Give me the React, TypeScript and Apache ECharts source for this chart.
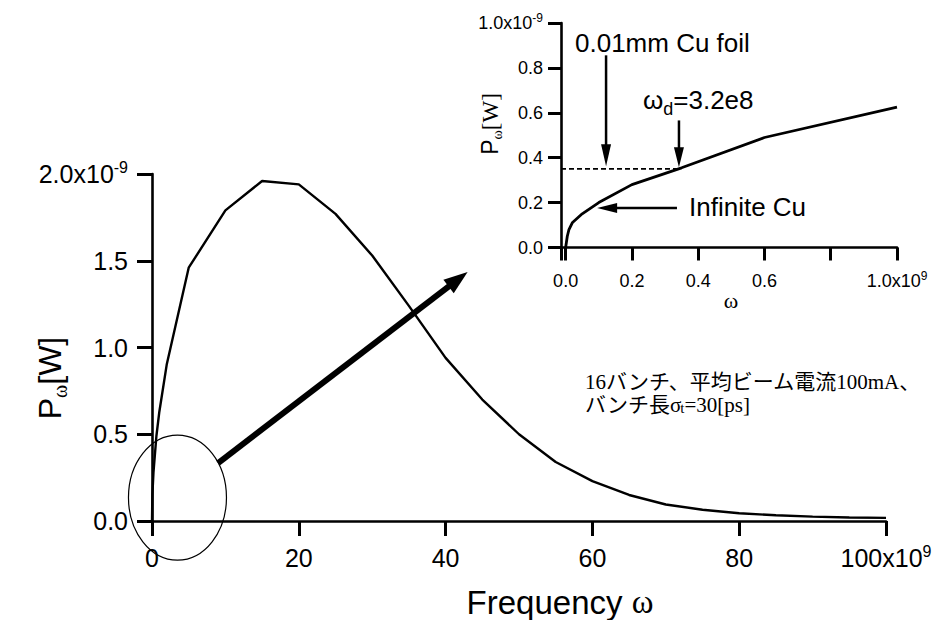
import React, { useEffect, useRef } from "react";
import * as echarts from "echarts";

// ---- data (main plot: x in 1e9, y in 1e-9 W) ----
const mainFreq = [0, 0.05, 0.2, 0.6, 1, 2, 5, 10, 15, 20, 25, 30, 35, 40, 45, 50, 55, 60, 65, 70, 75, 80, 85, 90, 95, 100];
const mainPower = [0, 0.15, 0.28, 0.49, 0.63, 0.9, 1.46, 1.79, 1.96, 1.94, 1.77, 1.53, 1.24, 0.94, 0.7, 0.5, 0.34, 0.23, 0.15, 0.095, 0.065, 0.045, 0.033, 0.025, 0.02, 0.018];

// ---- data (inset: x in 1e9, y in 1e-9 W) ----
const insetFreq = [0, 0.005, 0.01, 0.02, 0.05, 0.1, 0.2, 0.35, 0.6, 1.0];
const insetPower = [0, 0.05, 0.08, 0.11, 0.15, 0.2, 0.28, 0.355, 0.49, 0.625];
const insetXLabels = [0, 0.2, 0.4, 0.6, 1.0];
const foilLevel = 0.35;
const omegaD = 0.345;

const SANS = "Liberation Sans";
const SERIF = "Liberation Serif";
const JP = `${SERIF}, "Noto Sans CJK JP"`;

export default function App() {
  const ref = useRef<HTMLDivElement>(null);
  useEffect(() => {
    if (!ref.current) return;
    const chart = echarts.init(ref.current, undefined, { renderer: "svg" });

    const mainRich = {
      n: { fontSize: 25, fontFamily: SANS, color: "#000", lineHeight: 30 },
      s: { fontSize: 16, fontFamily: SANS, color: "#000", verticalAlign: "top", lineHeight: 16 },
    };
    const insetRich = {
      n: { fontSize: 18, fontFamily: SANS, color: "#000", lineHeight: 22 },
      s: { fontSize: 12, fontFamily: SANS, color: "#000", verticalAlign: "top", lineHeight: 12 },
    };
    const axisBase = (len: number) => ({
      splitLine: { show: false },
      axisTick: { show: true, inside: false, length: len, lineStyle: { color: "#000", width: 3 } },
      axisLine: { show: true, onZero: false, lineStyle: { color: "#000", width: 2.6 } },
    });

    const XMIN_INSET = -0.014;

    const option: any = {
      animation: false,
      backgroundColor: "#fff",
      grid: [
        { left: 152, top: 174, width: 734, height: 347 },
        { left: 561, top: 23, width: 336, height: 224.5 },
      ],
      xAxis: [
        {
          ...axisBase(15),
          type: "value",
          gridIndex: 0,
          min: 0,
          max: 100,
          interval: 20,
          axisLabel: {
            show: true,
            margin: 22,
            formatter: (v: number) => (v === 100 ? "{n|100x10}{s|9}" : "{n|" + v + "}"),
            rich: mainRich,
          },
        },
        {
          ...axisBase(13),
          type: "value",
          gridIndex: 1,
          min: XMIN_INSET,
          max: 1.0,
          axisLabel: {
            show: true,
            customValues: insetXLabels,
            margin: 22,
            formatter: (v: number) => (v === 1 ? "{n|1.0x10}{s|9}" : "{n|" + v.toFixed(1) + "}"),
            rich: insetRich,
          },
        },
      ],
      yAxis: [
        {
          ...axisBase(15),
          type: "value",
          gridIndex: 0,
          min: 0,
          max: 2.0,
          interval: 0.5,
          axisLabel: {
            show: true,
            margin: 24,
            formatter: (v: number) => (v === 2 ? "{n|2.0x10}{s|-9}" : "{n|" + v.toFixed(1) + "}"),
            rich: mainRich,
          },
        },
        {
          ...axisBase(13),
          type: "value",
          gridIndex: 1,
          min: 0,
          max: 1.0,
          interval: 0.2,
          axisLabel: {
            show: true,
            margin: 18,
            formatter: (v: number) => (v === 1 ? "{n|1.0x10}{s|-9}" : "{n|" + v.toFixed(1) + "}"),
            rich: insetRich,
          },
        },
      ],
      series: [
        {
          type: "line",
          xAxisIndex: 0,
          yAxisIndex: 0,
          data: mainFreq.map((x, i) => [x, mainPower[i]]),
          showSymbol: false,
          symbol: "none",
          lineStyle: { color: "#000", width: 2.4 },
        },
        {
          type: "line",
          xAxisIndex: 1,
          yAxisIndex: 1,
          data: insetFreq.map((x, i) => [x, insetPower[i]]),
          symbol: "none",
          lineStyle: { color: "#000", width: 2.8 },
        },
        {
          type: "line",
          xAxisIndex: 1,
          yAxisIndex: 1,
          data: [
            [XMIN_INSET, foilLevel],
            [omegaD, foilLevel],
          ],
          symbol: "none",
          lineStyle: { color: "#000", width: 1.8, type: [5, 3] },
        },
      ],
    };
    chart.setOption(option);

    const px = (g: number, x: number, y: number) => chart.convertToPixel({ gridIndex: g } as any, [x, y]) as number[];

    const arrow = (a: number[], b: number[], w: number, hl: number, hw: number) => {
      const dx = b[0] - a[0];
      const dy = b[1] - a[1];
      const L = Math.hypot(dx, dy);
      const ux = dx / L;
      const uy = dy / L;
      const bx = b[0] - ux * hl;
      const by = b[1] - uy * hl;
      const nx = -uy;
      const ny = ux;
      return [
        { type: "line", shape: { x1: a[0], y1: a[1], x2: bx + ux * 2, y2: by + uy * 2 }, style: { stroke: "#000", lineWidth: w } },
        {
          type: "polygon",
          shape: {
            points: [
              [b[0], b[1]],
              [bx + nx * hw / 2, by + ny * hw / 2],
              [bx - nx * hw / 2, by - ny * hw / 2],
            ],
          },
          style: { fill: "#000" },
        },
      ];
    };

    const ellC = px(0, 3.47, 0.135);
    const graphic: any[] = [
      { type: "ellipse", shape: { cx: ellC[0], cy: ellC[1], rx: 49, ry: 62.5 }, style: { fill: "none", stroke: "#000", lineWidth: 1.2 } },
      ...arrow(px(0, 9.0, 0.334), px(0, 43.0, 1.435), 6, 24, 17),
      ...arrow(px(1, 0.122, 0.856), px(1, 0.122, 0.362), 2.5, 22, 10),
      ...arrow(px(1, 0.342, 0.566), px(1, 0.342, 0.358), 2.5, 20, 10),
      ...arrow(px(1, 0.336, 0.176), px(1, 0.095, 0.176), 2.5, 20, 10),
      {
        type: "text",
        x: 575,
        y: 43,
        style: { text: "0.01mm Cu foil", font: `26px ${SANS}`, fill: "#000", verticalAlign: "middle" },
      },
      {
        type: "text",
        x: 643,
        y: 100,
        style: {
          text: "{a|ω}{d|d}{a|=3.2e8}",
          fill: "#000",
          verticalAlign: "middle",
          rich: {
            a: { fontSize: 26, fontFamily: SANS, lineHeight: 36, fill: "#000" },
            d: { fontSize: 18, fontFamily: SANS, verticalAlign: "bottom", lineHeight: 18, fill: "#000" },
          },
        },
      },
      {
        type: "text",
        x: 689,
        y: 207,
        style: { text: "Infinite Cu", font: `26px ${SANS}`, fill: "#000", verticalAlign: "middle" },
      },
      {
        type: "text",
        x: 731,
        y: 300,
        style: { text: "ω", font: `22px ${SERIF}`, fill: "#000", align: "center", verticalAlign: "middle" },
      },
      {
        type: "text",
        x: 490,
        y: 124,
        rotation: Math.PI / 2,
        style: {
          text: "{p|P}{w|ω}{b|[W]}",
          align: "center",
          verticalAlign: "middle",
          rich: {
            p: { fontSize: 23, fontFamily: SANS, lineHeight: 28, fill: "#000" },
            w: { fontSize: 14, fontFamily: SERIF, verticalAlign: "bottom", lineHeight: 14, fill: "#000" },
            b: { fontSize: 23, fontFamily: SERIF, lineHeight: 28, fill: "#000" },
          },
        },
      },
      {
        type: "text",
        x: 560,
        y: 602,
        style: {
          text: "{f|Frequency }{w|ω}",
          align: "center",
          verticalAlign: "middle",
          rich: {
            f: { fontSize: 33, fontFamily: SANS, fill: "#000" },
            w: { fontSize: 33, fontFamily: SERIF, fill: "#000" },
          },
        },
      },
      {
        type: "text",
        x: 50,
        y: 378,
        rotation: Math.PI / 2,
        style: {
          text: "{p|P}{w|ω}{b|[W]}",
          align: "center",
          verticalAlign: "middle",
          rich: {
            p: { fontSize: 32, fontFamily: SANS, lineHeight: 40, fill: "#000" },
            w: { fontSize: 20, fontFamily: SERIF, verticalAlign: "bottom", lineHeight: 20, fill: "#000" },
            b: { fontSize: 32, fontFamily: SANS, lineHeight: 40, fill: "#000" },
          },
        },
      },
      {
        type: "text",
        x: 585,
        y: 382,
        style: { text: "16バンチ、平均ビーム電流100mA、", font: `21px ${JP}`, fill: "#000", verticalAlign: "middle" },
      },
      {
        type: "text",
        x: 585,
        y: 405,
        style: {
          text: "{j|バンチ長σ}{t|t}{j|=30[ps]}",
          verticalAlign: "middle",
          rich: {
            j: { fontSize: 21, fontFamily: JP, lineHeight: 21, fill: "#000" },
            t: { fontSize: 15, fontFamily: SERIF, lineHeight: 21, verticalAlign: "bottom", fill: "#000" },
          },
        },
      },
    ];
    chart.setOption({ graphic });

    return () => chart.dispose();
  }, []);
  return <div ref={ref} style={{ position: "fixed", left: 0, top: 0, width: 941, height: 620 }} />;
}
